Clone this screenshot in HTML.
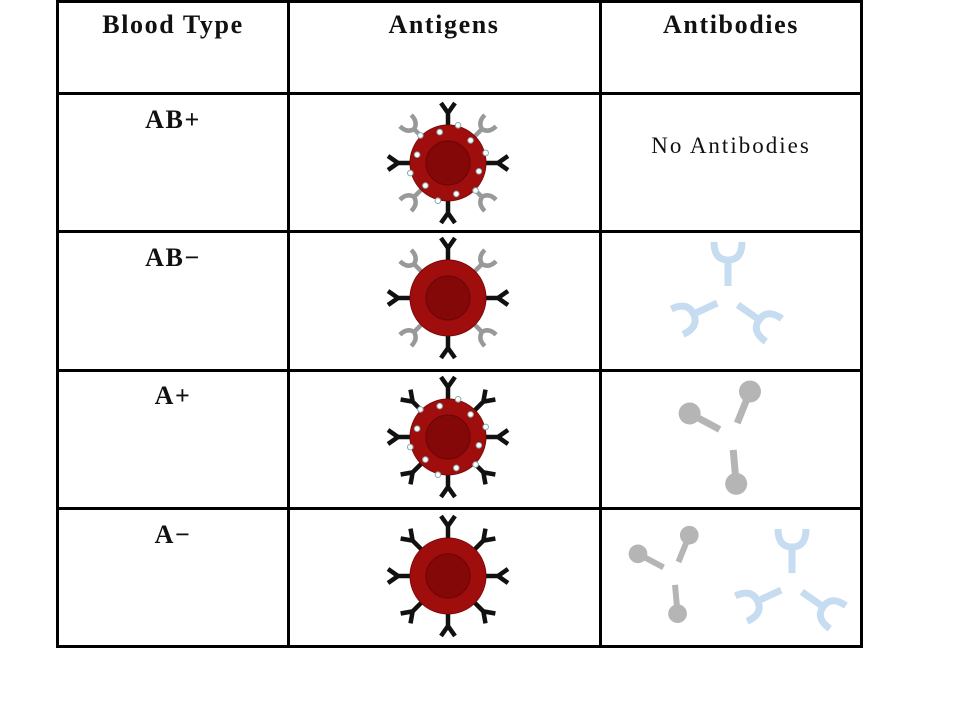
<!DOCTYPE html>
<html><head><meta charset="utf-8"><style>
html,body{margin:0;padding:0;background:#fff;}
svg{display:block;}
.h{font-family:"Liberation Serif",serif;font-weight:bold;font-size:26px;fill:#111;letter-spacing:1.6px;}
.r{font-family:"Liberation Serif",serif;font-size:23px;fill:#111;letter-spacing:2px;}
</style></head><body>
<svg id="s" width="960" height="720" xmlns="http://www.w3.org/2000/svg">
<g stroke="#000" stroke-width="3" fill="none">
<rect x="57.5" y="1.5" width="804" height="645"/>
<line x1="288.5" y1="0" x2="288.5" y2="647"/>
<line x1="600.5" y1="0" x2="600.5" y2="647"/>
<line x1="57" y1="93.5" x2="862" y2="93.5"/>
<line x1="57" y1="231.5" x2="862" y2="231.5"/>
<line x1="57" y1="370.5" x2="862" y2="370.5"/>
<line x1="57" y1="508.5" x2="862" y2="508.5"/>
</g>
<text class="h" x="173" y="33" text-anchor="middle">Blood Type</text>
<text class="h" x="444" y="33" text-anchor="middle">Antigens</text>
<text class="h" x="731" y="33" text-anchor="middle">Antibodies</text>
<text class="h" x="173" y="128" text-anchor="middle">AB+</text>
<text class="h" x="173" y="266" text-anchor="middle">AB−</text>
<text class="h" x="173" y="404" text-anchor="middle">A+</text>
<text class="h" x="173" y="543" text-anchor="middle">A−</text>
<text class="r" x="731" y="153" text-anchor="middle">No Antibodies</text>
<g id="cells"></g>
</svg>
<script>
const NS="http://www.w3.org/2000/svg";
const rows=[{cy:163,a:true,rh:true},{cy:298,a:true,rh:false},{cy:437,a:false,rh:true},{cy:576,a:false,rh:false}];
const cellsG=document.getElementById('cells');
function mk(t,at,p){const e=document.createElementNS(NS,t);for(const k in at)e.setAttribute(k,at[k]);(p||cellsG).appendChild(e);return e;}
rows.forEach((r,i)=>{
  const g=mk('g',{transform:`translate(448,${r.cy})`});
  
  
  for(let k=0;k<8;k++){
    const ang=k*45;const diag=k%2===1;
    const col=diag&&r.a?'#999':'#111';
    const a=mk('g',{transform:`rotate(${ang})`},g);
    if(diag&&r.a){
      mk('path',{d:'M0,-36 L0,-48 M0,-48 Q-8,-50 -8,-60 M0,-48 Q8,-50 8,-60',stroke:col,'stroke-width':4.5,fill:'none'},a);
    }else{
      mk('path',{d:'M0,-36 L0,-50 L-7,-60 M0,-50 L7,-60',stroke:col,'stroke-width':4.5,fill:'none'},a);
    }
  }
  mk('circle',{r:38,fill:'#a00d0d',stroke:'#7a0808','stroke-width':1},g);
  mk('circle',{r:22,fill:'#850808',stroke:'#6a0505','stroke-width':1},g);
  if(r.rh){
    for(let k=0;k<12;k++){
      const ang=(k*30+15)*Math.PI/180;const rr=k%2?32:39;
      mk('circle',{cx:(rr*Math.sin(ang)).toFixed(1),cy:(-rr*Math.cos(ang)).toFixed(1),r:2.8,fill:'#fff',stroke:'#8aa','stroke-width':1},g);
    }
  }
});
function blueY(cx,cy,angles){
  angles.forEach(ang=>{
    const a=mk('g',{transform:`translate(${cx},${cy}) rotate(${ang})`});
    
    
    mk('path',{d:'M0,-12 L0,-38 M-14,-56 Q-14,-38 0,-38 Q14,-38 14,-56',stroke:'#c6dcf0','stroke-width':7,fill:'none'},a);
  });
}
function lolli(cx,cy,angles,s){
  angles.forEach(ang=>{
    const a=mk('g',{transform:`translate(${cx},${cy}) rotate(${ang}) scale(${s})`});
    
    
    mk('line',{x1:0,y1:-14,x2:0,y2:-40,stroke:'#b5b5b5','stroke-width':7},a);
    mk('circle',{cx:0,cy:-48,r:11,fill:'#b5b5b5'},a);
  });
}
blueY(728,298,[0,-115,125]);
lolli(732,436,[-62,22,175],1);
lolli(674,573,[-62,22,175],0.85);
blueY(792,585,[0,-115,125]);
</script>
</body></html>
